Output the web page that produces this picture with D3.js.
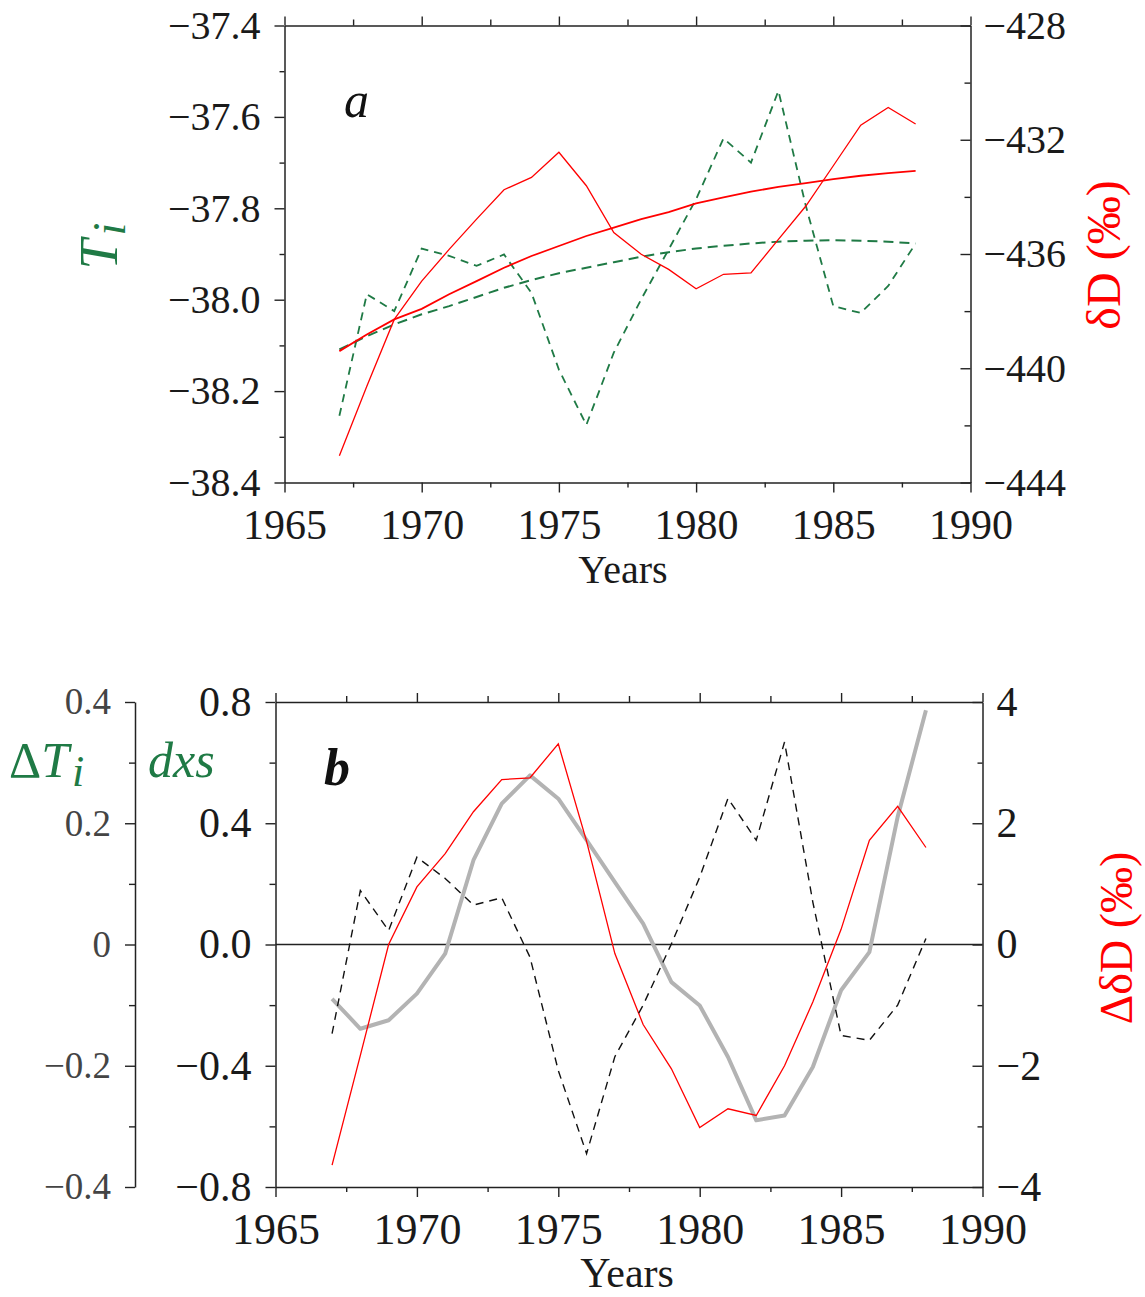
<!DOCTYPE html>
<html><head><meta charset="utf-8">
<script src="https://cdn.jsdelivr.net/npm/d3@7/dist/d3.min.js"></script>
<style>body{margin:0;background:#fff}</style>
</head><body><svg id="c" width="1145" height="1297"></svg>
<script>
// ---------- data ----------
const years = [1967,1968,1969,1970,1971,1972,1973,1974,1975,1976,1977,1978,1979,1980,1981,1982,1983,1984,1985,1986,1987,1988];
// panel a
const tiAnnual = [-38.254,-37.988,-38.025,-37.888,-37.904,-37.926,-37.901,-37.985,-38.153,-38.274,-38.116,-37.999,-37.890,-37.780,-37.647,-37.700,-37.543,-37.795,-38.014,-38.029,-37.970,-37.877];
const tiFit    = [-38.109,-38.080,-38.054,-38.032,-38.014,-37.994,-37.974,-37.957,-37.942,-37.930,-37.918,-37.906,-37.896,-37.888,-37.882,-37.877,-37.873,-37.871,-37.870,-37.871,-37.873,-37.877];
const dDAnnual = [-443.06,-440.63,-438.29,-436.95,-435.84,-434.78,-433.75,-433.32,-432.44,-433.61,-435.25,-436.01,-436.54,-437.22,-436.71,-436.66,-435.49,-434.32,-432.91,-431.49,-430.87,-431.45];
const dDFit    = [-439.40,-438.82,-438.29,-437.92,-437.41,-436.95,-436.48,-436.07,-435.72,-435.37,-435.08,-434.78,-434.53,-434.23,-434.02,-433.82,-433.65,-433.52,-433.38,-433.26,-433.17,-433.09];
// panel b
const deltaTi  = [-0.147,0.089,0.023,0.144,0.109,0.065,0.077,-0.021,-0.208,-0.345,-0.185,-0.100,0.001,0.111,0.241,0.172,0.334,0.070,-0.150,-0.158,-0.100,0.010];
const dxs      = [-0.179,-0.278,-0.250,-0.162,-0.030,0.278,0.465,0.558,0.481,0.344,0.206,0.069,-0.124,-0.201,-0.371,-0.580,-0.564,-0.404,-0.151,-0.025,0.421,0.773];
const deltaDD  = [-3.64,-1.83,0.00,0.95,1.50,2.19,2.72,2.75,3.31,1.70,-0.15,-1.32,-2.05,-3.02,-2.71,-2.82,-2.00,-0.95,0.25,1.72,2.28,1.60];
// ticks
const xMajor = [1965,1970,1975,1980,1985,1990];
const xMinor = [1967.5,1972.5,1977.5,1982.5,1987.5];
const tiTicks = [-37.4,-37.6,-37.8,-38.0,-38.2,-38.4];
const tiMinor = [-37.5,-37.7,-37.9,-38.1,-38.3];
const dDTicks = [-428,-432,-436,-440,-444];
const dDMinor = [-430,-434,-438,-442];
const dxsTicks = [0.8,0.4,0.0,-0.4,-0.8];
const dxsMinor = [0.6,0.2,-0.2,-0.6];
const dTiTicks = [0.4,0.2,0,-0.2,-0.4];
const dTiMinor = [0.3,0.1,-0.1,-0.3];
const ddDTicks = [4,2,0,-2,-4];
const ddDMinor = [3,1,-1,-3];

// ---------- drawing ----------
const svg = d3.select("#c");
svg.append("rect").attr("width",1145).attr("height",1297).attr("fill","#fff");
const FONT = "'Liberation Serif','Times New Roman',serif";
const INK = "#222";
const RED = "#ff0000";
const GREEN = "#1f7a45";
const GREY = "#b3b3b3";
const minus = v => (v < 0 ? "\u2212" : "") ;

function axis(gen, pos, majors, minors, majLen, minLen, fmt, pad, fs, col, domain=true) {
  const g = svg.append("g").attr("transform", pos);
  g.call(gen.tickValues(majors).tickSize(majLen).tickSizeOuter(0).tickPadding(pad).tickFormat(fmt || (()=>"")));
  g.attr("font-family", FONT).attr("font-size", fs);
  g.selectAll("path.domain").attr("stroke", INK).attr("stroke-width", 1.5);
  g.selectAll(".tick line").attr("stroke", INK).attr("stroke-width", 1.4);
  g.selectAll("text").attr("fill", col || "#1a1a1a");
  if (!domain) g.select("path.domain").remove();
  if (minors) {
    const g2 = svg.append("g").attr("transform", pos);
    g2.call(gen.tickValues(minors).tickSize(minLen).tickSizeOuter(0).tickFormat(()=>""));
    g2.select("path.domain").remove();
    g2.selectAll(".tick line").attr("stroke", INK).attr("stroke-width", 1.4);
  }
  return g;
}

// ===== Panel a =====
const xA = d3.scaleLinear([1965,1990],[284.5,970.5]);
const yA = d3.scaleLinear([-38.4,-37.4],[482.5,25.5]);
const yAR = d3.scaleLinear([-444,-428],[482.5,25.5]);

axis(d3.axisBottom(xA), "translate(0,482.5)", xMajor, xMinor, 10, 5, d=>d, 17, 42);
axis(d3.axisTop(xA), "translate(0,25.5)", xMajor, xMinor, 9, 6, null, 0, 42);
axis(d3.axisLeft(yA), "translate(284.5,0)", tiTicks, tiMinor, 10, 5, d=>"\u2212"+Math.abs(d).toFixed(1), 14, 40);
axis(d3.axisRight(yAR), "translate(970.5,0)", dDTicks, dDMinor, -10, -6, d=>"\u2212"+Math.abs(d), 13, 40);

const lineA = sc => d3.line().x((d,i)=>xA(years[i])).y(d=>sc(d));
svg.append("path").datum(tiFit).attr("d", lineA(yA)).attr("fill","none").attr("stroke",GREEN).attr("stroke-width",2).attr("stroke-dasharray","10,6");
svg.append("path").datum(tiAnnual).attr("d", lineA(yA)).attr("fill","none").attr("stroke",GREEN).attr("stroke-width",1.8).attr("stroke-dasharray","8,6");
svg.append("path").datum(dDFit).attr("d", lineA(yAR)).attr("fill","none").attr("stroke",RED).attr("stroke-width",1.8);
svg.append("path").datum(dDAnnual).attr("d", lineA(yAR)).attr("fill","none").attr("stroke",RED).attr("stroke-width",1.3);

svg.append("text").attr("x",344).attr("y",117).attr("font-family",FONT).attr("font-style","italic").attr("font-size",50).attr("fill","#111").text("a");
svg.append("text").attr("x",623).attr("y",583).attr("text-anchor","middle").attr("font-family",FONT).attr("font-size",40).attr("fill","#1a1a1a").text("Years");

const tiLab = svg.append("text").attr("transform","translate(117,246) rotate(-90)").attr("text-anchor","middle")
  .attr("font-family",FONT).attr("font-style","italic").attr("font-size",54).attr("fill",GREEN);
tiLab.append("tspan").text("T");
tiLab.append("tspan").attr("dy",8).attr("dx",4).attr("font-size",46).text("i");

svg.append("text").attr("transform","translate(1120,255) rotate(-90)").attr("text-anchor","middle")
  .attr("font-family",FONT).attr("font-size",48).attr("fill",RED).text("\u03b4D (\u2030)");

// ===== Panel b =====
const xB = d3.scaleLinear([1965,1990],[275.5,982.5]);
const yB = d3.scaleLinear([-0.8,0.8],[1187,702]);
const yBO = d3.scaleLinear([-0.4,0.4],[1187,702]);
const yBR = d3.scaleLinear([-4,4],[1187,702]);

axis(d3.axisBottom(xB), "translate(0,1187)", xMajor, xMinor, 10, 5, d=>d, 16, 44);
axis(d3.axisTop(xB), "translate(0,702)", xMajor, xMinor, 9, 6, null, 0, 44);
axis(d3.axisLeft(yB), "translate(275.5,0)", dxsTicks, dxsMinor, 10, 6, d=> d===0 ? "0.0" : minus(d)+Math.abs(d).toFixed(1), 14, 42);
axis(d3.axisRight(yBR), "translate(982.5,0)", ddDTicks, ddDMinor, -10, -5, d=> minus(d)+Math.abs(d), 14, 42);
axis(d3.axisLeft(yBO), "translate(135,0)", dTiTicks, dTiMinor, 10, 6, d=> d===0 ? "0" : minus(d)+Math.abs(d).toFixed(1), 14, 37, "#444");

// zero line
svg.append("line").attr("x1",xB(1965)).attr("x2",xB(1990)).attr("y1",yB(0)).attr("y2",yB(0)).attr("stroke",INK).attr("stroke-width",1.5);

const lineB = sc => d3.line().x((d,i)=>xB(years[i])).y(d=>sc(d));
svg.append("path").datum(dxs).attr("d", lineB(yB)).attr("fill","none").attr("stroke",GREY).attr("stroke-width",4).attr("stroke-linejoin","round");
svg.append("path").datum(deltaDD).attr("d", lineB(yBR)).attr("fill","none").attr("stroke",RED).attr("stroke-width",1.3);
svg.append("path").datum(deltaTi).attr("d", lineB(yBO)).attr("fill","none").attr("stroke","#111").attr("stroke-width",1.4).attr("stroke-dasharray","8,6");

svg.append("text").attr("x",324).attr("y",785).attr("font-family",FONT).attr("font-style","italic").attr("font-weight","bold").attr("font-size",52).attr("fill","#111").text("b");
svg.append("text").attr("x",627).attr("y",1287).attr("text-anchor","middle").attr("font-family",FONT).attr("font-size",42).attr("fill","#1a1a1a").text("Years");

const dTiLab = svg.append("text").attr("x",9).attr("y",777).attr("font-family",FONT).attr("font-size",50).attr("fill",GREEN);
dTiLab.append("tspan").text("\u0394");
dTiLab.append("tspan").attr("font-style","italic").text("T");
dTiLab.append("tspan").attr("font-style","italic").attr("dy",9).attr("dx",3).attr("font-size",44).text("i");
svg.append("text").attr("x",148).attr("y",777).attr("font-family",FONT).attr("font-style","italic").attr("font-size",50).attr("fill",GREEN).text("dxs");

svg.append("text").attr("transform","translate(1132,938) rotate(-90)").attr("text-anchor","middle")
  .attr("font-family",FONT).attr("font-size",46).attr("fill",RED).text("\u0394\u03b4D (\u2030)");
</script></body></html>
